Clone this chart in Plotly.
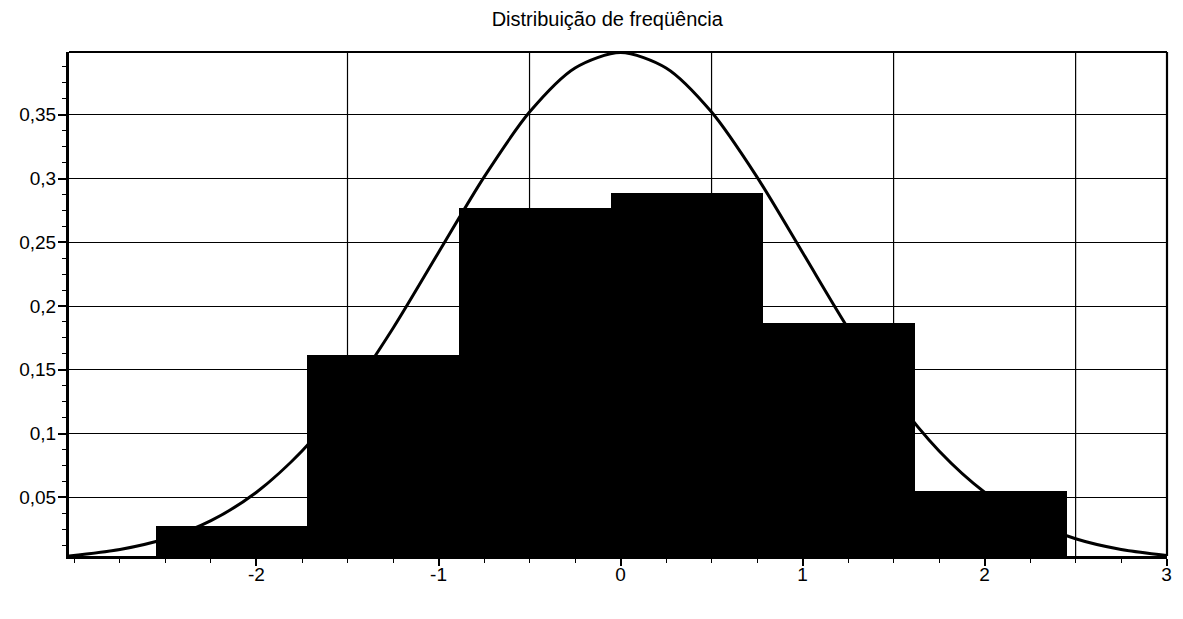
import plotly.graph_objects as go

# ---- data ----
bin_edges = [-2.55, -1.72, -0.885, -0.05, 0.785, 1.62, 2.45]
rel_freq = [0.0275, 0.162, 0.277, 0.289, 0.187, 0.055]

curve_x = [-3.03, -2.75, -2.5, -2.25, -2.0, -1.75, -1.5, -1.25, -1.0, -0.75, -0.5,
           -0.25, 0.0, 0.25, 0.5, 0.75, 1.0, 1.25, 1.5, 1.75, 2.0, 2.25, 2.5,
           2.75, 3.0]
curve_y = [0.0040, 0.0091, 0.0175, 0.0317, 0.0540, 0.0863, 0.1295, 0.1826, 0.2420,
           0.3011, 0.3521, 0.3867, 0.3989, 0.3867, 0.3521, 0.3011, 0.2420, 0.1826,
           0.1295, 0.0863, 0.0540, 0.0317, 0.0175, 0.0091, 0.0044]

x_tick_vals = [-2, -1, 0, 1, 2, 3]
x_tick_text = ["-2", "-1", "0", "1", "2", "3"]
y_tick_vals = [0.05, 0.1, 0.15, 0.2, 0.25, 0.3, 0.35]
y_tick_text = ["0,05", "0,1", "0,15", "0,2", "0,25", "0,3", "0,35"]
x_grid_vals = [-1.5, -0.5, 0.5, 1.5, 2.5]

title_text = "Distribuição de freqüência"

# ---- figure ----
centers = [(a + b) / 2 for a, b in zip(bin_edges[:-1], bin_edges[1:])]
widths = [b - a for a, b in zip(bin_edges[:-1], bin_edges[1:])]

fig = go.Figure()
fig.add_trace(go.Bar(x=centers, y=rel_freq, width=widths,
                     marker=dict(color="black", line=dict(width=0)),
                     showlegend=False))
fig.add_trace(go.Scatter(x=curve_x, y=curve_y, mode="lines",
                         line=dict(color="black", width=3, shape="spline", smoothing=0.8),
                         showlegend=False, cliponaxis=True))

shapes = []
for gx in x_grid_vals:
    shapes.append(dict(type="line", xref="x", yref="paper", x0=gx, x1=gx, y0=0, y1=1,
                       line=dict(color="black", width=1.2), layer="below"))
# top and right frame
shapes.append(dict(type="line", xref="paper", yref="paper", x0=0, x1=1, y0=1, y1=1,
                   line=dict(color="black", width=2.2)))
shapes.append(dict(type="line", xref="paper", yref="paper", x0=1, x1=1, y0=0, y1=1,
                   line=dict(color="black", width=2.2)))

W, H = 1175, 611  # page body adds an 8px offset
fig.update_layout(
    width=W, height=H,
    margin=dict(l=61, r=11, t=44, b=63),
    paper_bgcolor="white", plot_bgcolor="white",
    font=dict(family="Liberation Sans, Arial, sans-serif", color="black"),
    title=dict(text=title_text, x=0.51, xanchor="center", y=1 - 11 / H,
               yanchor="middle", yref="container",
               font=dict(size=20, color="black")),
    bargap=0, shapes=shapes,
)
fig.update_xaxes(
    range=[-3.03, 3.002], tickmode="array", tickvals=x_tick_vals, ticktext=x_tick_text,
    showgrid=False, zeroline=False,
    showline=True, linecolor="black", linewidth=3,
    ticks="outside", ticklen=7, tickwidth=1.5, tickcolor="black",
    tickfont=dict(size=19, color="black"), ticklabelstandoff=-8,
    minor=dict(tickmode="linear", tick0=0, dtick=0.25, ticks="outside", ticklen=4,
               tickwidth=1.2, tickcolor="black", showgrid=False),
)
fig.update_yaxes(
    range=[0.004, 0.3992], tickmode="array", tickvals=y_tick_vals, ticktext=y_tick_text,
    showgrid=True, gridcolor="black", gridwidth=1.2, zeroline=False,
    showline=True, linecolor="black", linewidth=3,
    ticks="outside", ticklen=8, tickwidth=1.5, tickcolor="black",
    tickfont=dict(size=19, color="black"), ticklabelstandoff=-2,
    minor=dict(tickmode="linear", tick0=0, dtick=0.0125, ticks="outside", ticklen=4,
               tickwidth=1.2, tickcolor="black", showgrid=False),
)

fig.write_html("out.html")
